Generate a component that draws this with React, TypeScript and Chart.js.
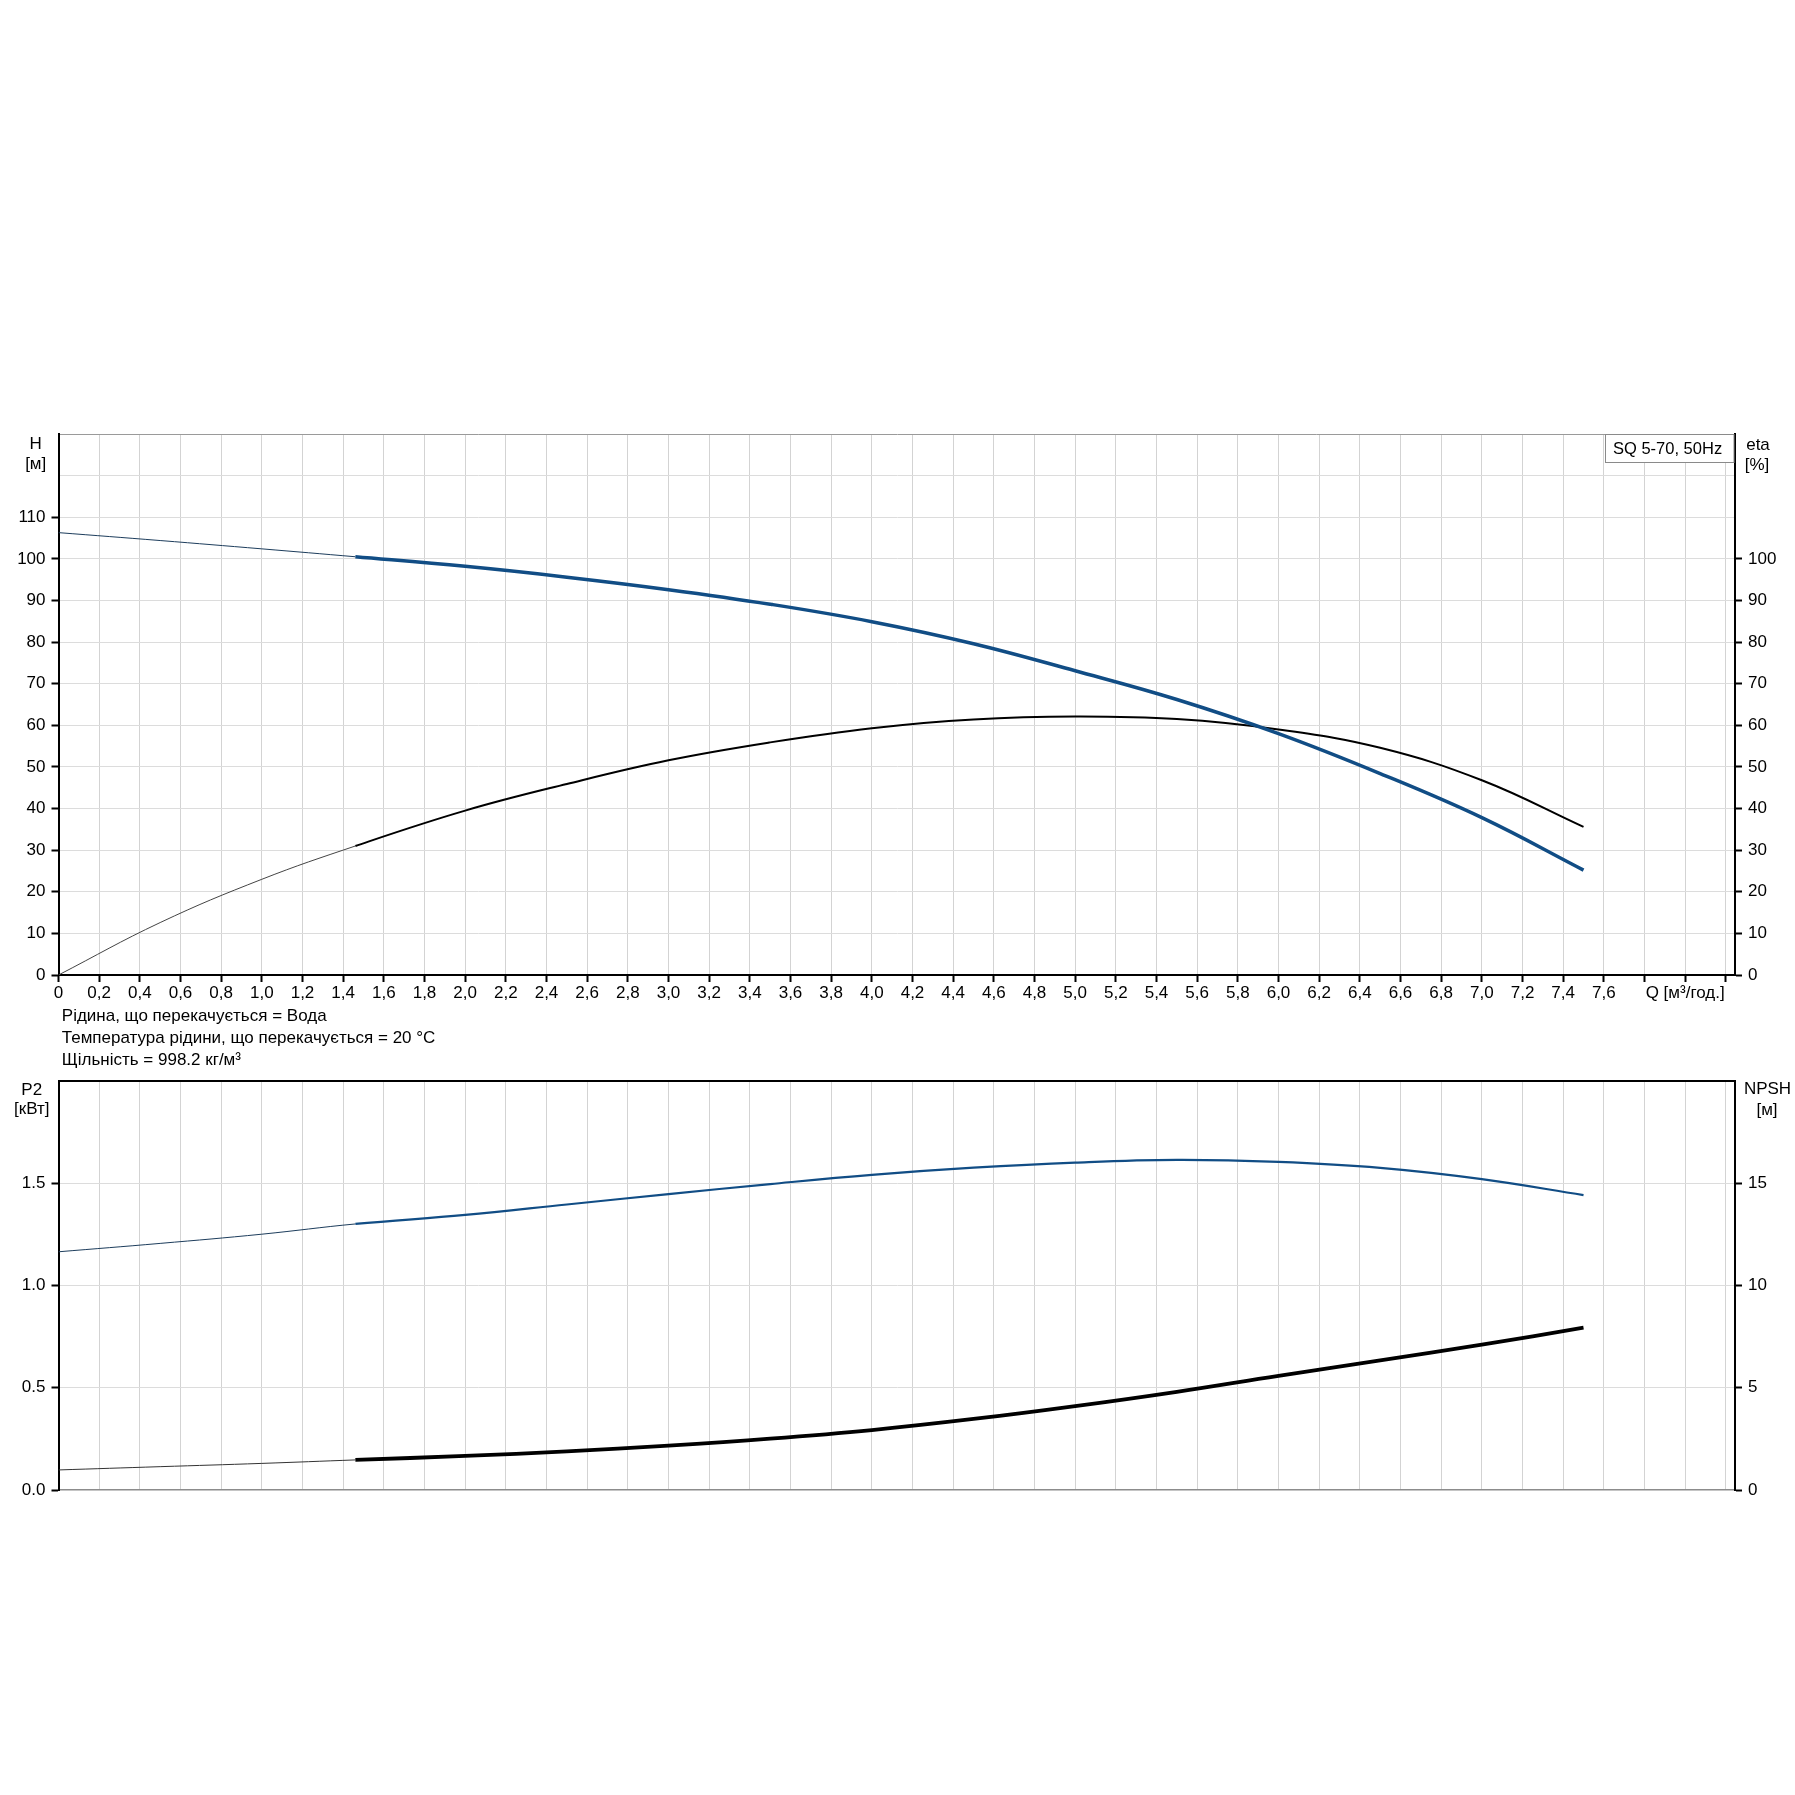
import React, { useEffect, useRef } from 'react';
import { Chart, registerables } from 'chart.js';

Chart.register(...registerables);

// ---------- data ----------
const Q = [0, 0.5, 1.0, 1.46, 2.0, 2.5, 3.0, 3.5, 4.0, 4.5, 5.0, 5.5, 6.0, 6.5, 7.0, 7.5];
const H = [106.3, 104.4, 102.4, 100.5, 98.2, 95.6, 92.6, 89.1, 84.9, 79.6, 73.1, 66.2, 58.0, 48.4, 37.8, 25.2];
const ETA = [0, 12.6, 23.0, 31.0, 39.5, 45.9, 51.6, 55.9, 59.3, 61.4, 62.1, 61.5, 59.0, 54.6, 46.8, 35.6];
const P2 = [1.164, 1.205, 1.25, 1.3, 1.344, 1.395, 1.446, 1.495, 1.54, 1.575, 1.6, 1.613, 1.603, 1.574, 1.519, 1.441];
const NPSH = [0.98, 1.14, 1.3, 1.47, 1.664, 1.889, 2.169, 2.509, 2.93, 3.47, 4.1, 4.8, 5.58, 6.33, 7.1, 7.93];
const Q_DUTY_START = 1.46;

const X_MAX = 8.245;
const X_STEP = 0.2;
const H_MAX = 130;
const H_LABEL_MAX = 110;
const ETA_LABEL_MAX = 100;
const P2_MAX = 2;
const NPSH_MAX = 20;
const Q_AXIS_TITLE = 'Q [м³/год.]';
const PUMP_NAME = 'SQ 5-70, 50Hz';
const FOOTER_LINES = [
  'Рідина, що перекачується = Вода',
  'Температура рідини, що перекачується = 20 °C',
  'Щільність = 998.2 кг/м³',
];

const FONT = "'Liberation Sans', Arial, Helvetica, sans-serif";
const BLUE = '#114d85';
const GRID_V = '#d3d3d3';
const GRID_H = '#dcdcdc';
const TRANSPARENT = 'rgba(0,0,0,0)';

const W = 1795;
const TOP_H = 1070;
const BOT_TOP = 1020;
const BOT_H = 540;

function points(ys: number[]) {
  return Q.map((q, i) => ({ x: q, y: ys[i] }));
}

function segWidth(thick: number) {
  return (ctx: any) => (ctx.p1.parsed.x <= Q_DUTY_START + 1e-6 ? 1 : thick);
}

function xLabel(v: number) {
  const r = Math.round(v * 10) / 10;
  if (Math.abs(r - 8.0) < 1e-6) return Q_AXIS_TITLE;
  if (r > 7.65) return '';
  if (r === 0) return '0';
  return r.toFixed(1).replace('.', ',');
}

const topTextPlugin = {
  id: 'topText',
  afterDraw(chart: any) {
    const ctx = chart.ctx;
    ctx.save();
    ctx.fillStyle = '#000';
    ctx.font = `17px ${FONT}`;
    ctx.textAlign = 'center';
    ctx.textBaseline = 'middle';
    ctx.fillText('H', 35.7, 444);
    ctx.fillText('[м]', 35.7, 464.5);
    ctx.fillText('eta', 1758, 445);
    ctx.fillText('[%]', 1757, 465);
    // pump name box
    ctx.fillStyle = '#fff';
    ctx.fillRect(1605.5, 434.5, 128, 28);
    ctx.strokeStyle = '#8a8a8a';
    ctx.lineWidth = 1;
    ctx.strokeRect(1605.5, 434.5, 128.5, 28);
    ctx.fillStyle = '#000';
    ctx.font = `16.5px ${FONT}`;
    ctx.textAlign = 'left';
    ctx.fillText(PUMP_NAME, 1613, 449);
    // footer
    ctx.font = `17px ${FONT}`;
    const ys = [1016.6, 1038.3, 1060];
    FOOTER_LINES.forEach((t, i) => ctx.fillText(t, 61.8, ys[i]));
    ctx.restore();
  },
};

const bottomTextPlugin = {
  id: 'bottomText',
  afterDraw(chart: any) {
    const ctx = chart.ctx;
    ctx.save();
    ctx.fillStyle = '#000';
    ctx.font = `17px ${FONT}`;
    ctx.textAlign = 'center';
    ctx.textBaseline = 'middle';
    ctx.fillText('P2', 31.7, 1090 - BOT_TOP);
    ctx.fillText('[кВт]', 31.7, 1109.5 - BOT_TOP);
    ctx.fillText('NPSH', 1767.5, 1089.5 - BOT_TOP);
    ctx.fillText('[м]', 1767, 1110 - BOT_TOP);
    ctx.restore();
  },
};

const tickFont = { family: FONT, size: 17 };

export default function App() {
  const topRef = useRef<HTMLCanvasElement | null>(null);
  const botRef = useRef<HTMLCanvasElement | null>(null);

  useEffect(() => {
    const top = new Chart(topRef.current as HTMLCanvasElement, {
      type: 'line',
      data: {
        datasets: [
          {
            label: 'H',
            data: points(H),
            yAxisID: 'y',
            borderColor: BLUE,
            borderWidth: 3.5,
            pointRadius: 0,
            tension: 0.4,
            segment: {
              borderWidth: segWidth(3.5),
              borderColor: (ctx: any) => (ctx.p1.parsed.x <= Q_DUTY_START + 1e-6 ? '#1d3d5c' : BLUE),
            },
          } as any,
          {
            label: 'eta',
            data: points(ETA),
            yAxisID: 'y2',
            borderColor: '#000',
            borderWidth: 2,
            pointRadius: 0,
            tension: 0.4,
            segment: {
              borderWidth: segWidth(2),
              borderColor: (ctx: any) => (ctx.p1.parsed.x <= Q_DUTY_START + 1e-6 ? '#444' : '#000'),
            },
          } as any,
        ],
      },
      options: {
        animation: false,
        responsive: false,
        events: [],
        layout: { padding: { top: 434, left: 0, right: 0, bottom: 0 } },
        plugins: { legend: { display: false }, tooltip: { enabled: false } },
        scales: {
          x: {
            type: 'linear',
            min: 0,
            max: X_MAX,
            ticks: {
              stepSize: X_STEP,
              includeBounds: false,
              autoSkip: false,
              maxRotation: 0,
              minRotation: 0,
              padding: 1,
              color: '#000',
              font: tickFont,
              callback: (v: any) => xLabel(Number(v)),
            },
            grid: {
              color: (c: any) => (c.tick && Math.abs(c.tick.value) < 1e-9 ? TRANSPARENT : GRID_V),
              lineWidth: 1,
              tickLength: 7,
              tickColor: '#000',
              tickWidth: 2,
            },
            border: { color: '#000', width: 2 },
            afterFit: (s: any) => {
              s.height = TOP_H - 975;
            },
          },
          y: {
            type: 'linear',
            position: 'left',
            min: 0,
            max: H_MAX,
            ticks: {
              stepSize: 10,
              autoSkip: false,
              padding: 6,
              color: '#000',
              font: tickFont,
              callback: (v: any) => (Number(v) <= H_LABEL_MAX ? String(v) : ''),
            },
            grid: {
              color: (c: any) => {
                const v = c.tick ? c.tick.value : -1;
                if (v === 0) return TRANSPARENT;
                if (v === H_MAX) return '#9a9a9a';
                return GRID_H;
              },
              lineWidth: 1,
              tickLength: 7,
              tickWidth: 2,
              tickColor: (c: any) => (c.tick && c.tick.value <= H_LABEL_MAX ? '#000' : TRANSPARENT),
            },
            border: { color: '#000', width: 2 },
            afterFit: (s: any) => {
              s.width = 58.5;
            },
          },
          y2: {
            type: 'linear',
            position: 'right',
            min: 0,
            max: H_MAX,
            ticks: {
              stepSize: 10,
              autoSkip: false,
              padding: 6,
              color: '#000',
              font: tickFont,
              callback: (v: any) => (Number(v) <= ETA_LABEL_MAX ? String(v) : ''),
            },
            grid: {
              drawOnChartArea: false,
              tickLength: 7,
              tickWidth: 2,
              tickColor: (c: any) => (c.tick && c.tick.value <= ETA_LABEL_MAX ? '#000' : TRANSPARENT),
            },
            border: { color: '#000', width: 2 },
            afterFit: (s: any) => {
              s.width = W - 1735;
            },
          },
        },
      } as any,
      plugins: [topTextPlugin],
    });

    const bot = new Chart(botRef.current as HTMLCanvasElement, {
      type: 'line',
      data: {
        datasets: [
          {
            label: 'P2',
            data: points(P2),
            yAxisID: 'y',
            borderColor: BLUE,
            borderWidth: 2.2,
            pointRadius: 0,
            tension: 0.4,
            segment: {
              borderWidth: segWidth(2.2),
              borderColor: (ctx: any) => (ctx.p1.parsed.x <= Q_DUTY_START + 1e-6 ? '#1d3d5c' : BLUE),
            },
          } as any,
          {
            label: 'NPSH',
            data: points(NPSH),
            yAxisID: 'y2',
            borderColor: '#000',
            borderWidth: 3.8,
            pointRadius: 0,
            tension: 0.4,
            segment: {
              borderWidth: segWidth(3.8),
              borderColor: (ctx: any) => (ctx.p1.parsed.x <= Q_DUTY_START + 1e-6 ? '#333' : '#000'),
            },
          } as any,
        ],
      },
      options: {
        animation: false,
        responsive: false,
        events: [],
        layout: { padding: { top: 1080.7 - BOT_TOP, left: 0, right: 0, bottom: 0 } },
        plugins: { legend: { display: false }, tooltip: { enabled: false } },
        scales: {
          x: {
            type: 'linear',
            min: 0,
            max: X_MAX,
            ticks: { display: false, stepSize: X_STEP, includeBounds: false, autoSkip: false },
            grid: {
              color: (c: any) => (c.tick && Math.abs(c.tick.value) < 1e-9 ? TRANSPARENT : GRID_V),
              lineWidth: 1,
              drawTicks: false,
            },
            border: { color: '#8c8c8c', width: 1.5 },
            afterFit: (s: any) => {
              s.height = BOT_TOP + BOT_H - 1490;
            },
          },
          y: {
            type: 'linear',
            position: 'left',
            min: 0,
            max: P2_MAX,
            ticks: {
              stepSize: 0.5,
              autoSkip: false,
              padding: 6,
              color: '#000',
              font: tickFont,
              callback: (v: any) => (Number(v) < P2_MAX ? Number(v).toFixed(1) : ''),
            },
            grid: {
              color: (c: any) => {
                const v = c.tick ? c.tick.value : -1;
                if (v === 0) return TRANSPARENT;
                if (v === P2_MAX) return '#000';
                return GRID_H;
              },
              lineWidth: (c: any) => (c.tick && c.tick.value === P2_MAX ? 2 : 1),
              tickLength: 7,
              tickWidth: 2,
              tickColor: (c: any) => (c.tick && c.tick.value < P2_MAX ? '#000' : TRANSPARENT),
            },
            border: { color: '#000', width: 2 },
            afterFit: (s: any) => {
              s.width = 58.5;
            },
          },
          y2: {
            type: 'linear',
            position: 'right',
            min: 0,
            max: NPSH_MAX,
            ticks: {
              stepSize: 5,
              autoSkip: false,
              padding: 6,
              color: '#000',
              font: tickFont,
              callback: (v: any) => (Number(v) < NPSH_MAX ? String(v) : ''),
            },
            grid: {
              drawOnChartArea: false,
              tickLength: 7,
              tickWidth: 2,
              tickColor: (c: any) => (c.tick && c.tick.value < NPSH_MAX ? '#000' : TRANSPARENT),
            },
            border: { color: '#000', width: 2 },
            afterFit: (s: any) => {
              s.width = W - 1735;
            },
          },
        },
      } as any,
      plugins: [bottomTextPlugin],
    });

    return () => {
      top.destroy();
      bot.destroy();
    };
  }, []);

  return (
    <div
      style={{
        position: 'fixed',
        left: 0,
        top: 0,
        width: W + 'px',
        height: '1795px',
        background: '#fff',
        overflow: 'hidden',
      }}
    >
      <canvas
        ref={topRef}
        width={W}
        height={TOP_H}
        style={{ position: 'absolute', left: 0, top: 0, width: W + 'px', height: TOP_H + 'px' }}
      />
      <canvas
        ref={botRef}
        width={W}
        height={BOT_H}
        style={{ position: 'absolute', left: 0, top: BOT_TOP + 'px', width: W + 'px', height: BOT_H + 'px' }}
      />
    </div>
  );
}
